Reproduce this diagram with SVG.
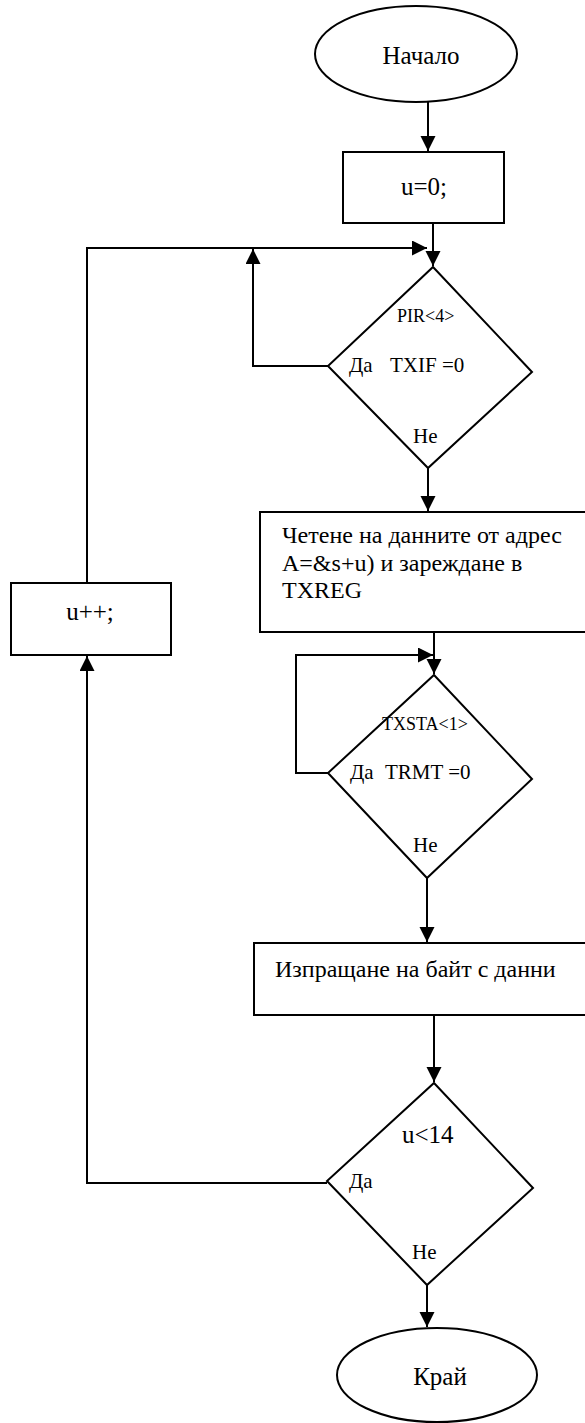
<svg xmlns="http://www.w3.org/2000/svg" width="585" height="1423" viewBox="0 0 585 1423">
<style>
.s{fill:#fff;stroke:#000;stroke-width:2}
.l{fill:none;stroke:#000;stroke-width:2}
.b{font-family:'Liberation Serif',serif;font-size:25px;fill:#000}
.t{font-family:'Liberation Serif',serif;font-size:24px;fill:#000}
.m{font-family:'Liberation Serif',serif;font-size:21px;fill:#000}
.sm{font-family:'Liberation Serif',serif;font-size:18px;fill:#000}
</style>
<defs>
<marker id="a" markerWidth="16" markerHeight="16" refX="15" refY="7.5" orient="auto" markerUnits="userSpaceOnUse">
<path d="M0,0 L15,7.5 L0,15 Z" fill="#000"/>
</marker>
</defs>
<g id="connectors">
<line class="l" x1="428" y1="101" x2="428" y2="151" marker-end="url(#a)"/>
<line class="l" x1="433" y1="223" x2="433" y2="266" marker-end="url(#a)"/>
<polyline class="l" points="328,366 253,366 253,249" marker-end="url(#a)"/>
<polyline class="l" points="87,583 87,248 427,248" marker-end="url(#a)"/>
<line class="l" x1="428" y1="468" x2="428" y2="511" marker-end="url(#a)"/>
<line class="l" x1="434" y1="632" x2="434" y2="674" marker-end="url(#a)"/>
<polyline class="l" points="328,773 296,773 296,655 433,655" marker-end="url(#a)"/>
<line class="l" x1="427" y1="878" x2="427" y2="942" marker-end="url(#a)"/>
<line class="l" x1="434" y1="1015" x2="434" y2="1082" marker-end="url(#a)"/>
<polyline class="l" points="327,1183 87,1183 87,656" marker-end="url(#a)"/>
<line class="l" x1="427" y1="1285" x2="427" y2="1327" marker-end="url(#a)"/>
</g>
<g id="start">
<ellipse class="s" cx="416" cy="54" rx="101" ry="48"/>
<text class="b" x="421" y="64" text-anchor="middle">Начало</text>
</g>
<g id="init">
<rect class="s" x="343" y="152" width="161" height="71"/>
<text class="b" x="424" y="195" text-anchor="middle">u=0;</text>
</g>
<g id="dec1">
<polygon class="s" points="433,267 532,372 428,468 328,366"/>
<text class="sm" x="397" y="322">PIR&lt;4&gt;</text>
<text class="m" x="349" y="372">Да</text>
<text class="m" x="390" y="372">TXIF =0</text>
<text class="m" x="413" y="443">Не</text>
</g>
<g id="read">
<rect class="s" x="260" y="512" width="330" height="120"/>
<text class="t" x="282" y="543">Четене на данните от адрес</text>
<text class="t" x="282" y="571">A=&amp;s+u) и зареждане в</text>
<text class="t" x="282" y="598">TXREG</text>
</g>
<g id="dec2">
<polygon class="s" points="434,675 532,779 427,878 328,773"/>
<text class="sm" x="382" y="730">TXSTA&lt;1&gt;</text>
<text class="m" x="350" y="779">Да</text>
<text class="m" x="385" y="779">TRMT =0</text>
<text class="m" x="413" y="852">Не</text>
</g>
<g id="send">
<rect class="s" x="254" y="943" width="336" height="72"/>
<text class="t" x="275" y="977">Изпращане на байт с данни</text>
</g>
<g id="dec3">
<polygon class="s" points="434,1083 533,1188 427,1285 327,1181"/>
<text class="b" x="402" y="1143">u&lt;14</text>
<text class="m" x="349" y="1188">Да</text>
<text class="m" x="412" y="1259">Не</text>
</g>
<g id="inc">
<rect class="s" x="11" y="583" width="160" height="72"/>
<text class="b" x="90" y="620" text-anchor="middle">u++;</text>
</g>
<g id="end">
<ellipse class="s" cx="437" cy="1375" rx="100" ry="47"/>
<text class="b" x="440" y="1385" text-anchor="middle">Край</text>
</g>
</svg>
